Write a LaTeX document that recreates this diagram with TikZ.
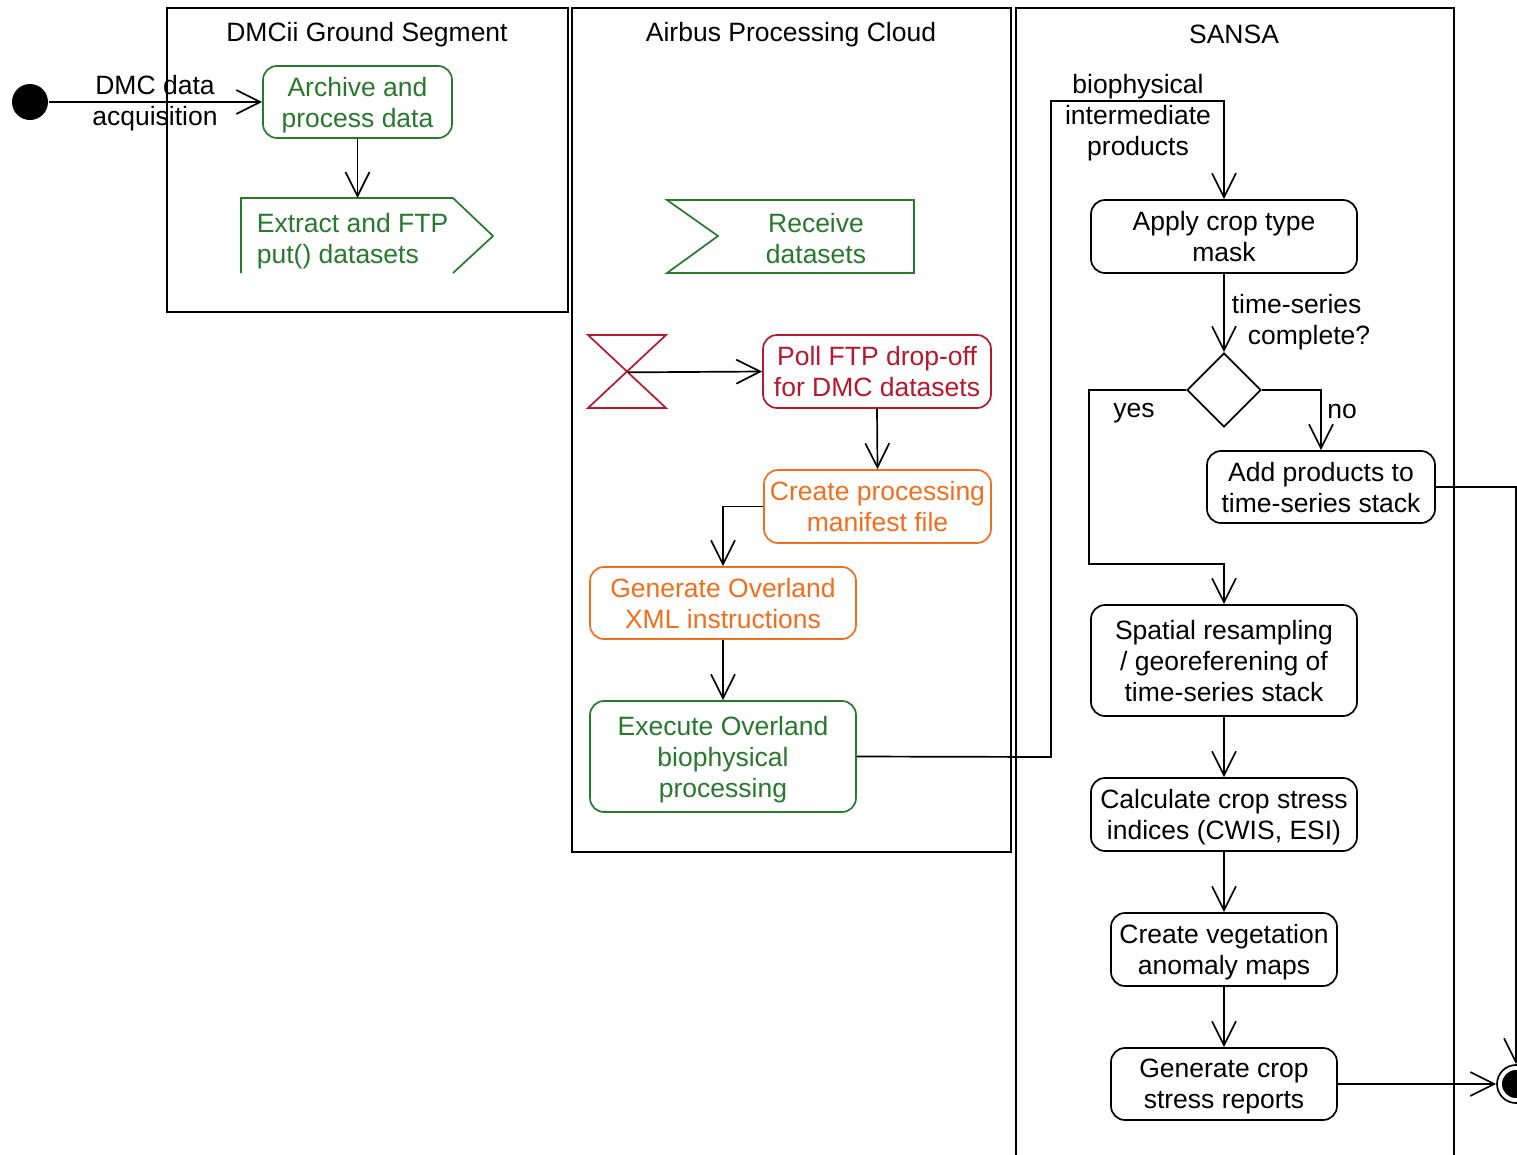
\documentclass[tikz,border=0pt]{standalone}
\usepackage{fontspec}
\setmainfont{Liberation Sans}
\usetikzlibrary{arrows.meta,shapes.geometric}
\definecolor{ggreen}{RGB}{40,120,45}
\definecolor{rred}{RGB}{180,25,45}
\definecolor{oorange}{RGB}{240,110,30}
\begin{document}
\begin{tikzpicture}[x=1pt,y=-1pt,line width=1.7pt,
  txt/.style={font=\fontsize{26.5}{31}\selectfont,execute at begin node={\rule{0pt}{24pt}}},
  ml/.style={text depth=-2pt},
  act/.style={draw,rounded corners=14pt,align=center,inner sep=0pt,txt,ml},
  flow/.style={-{Straight Barb[length=24pt,width=24pt,line width=1.7pt]}},
  lane/.style={draw,inner sep=0pt,anchor=north west},
  lbl/.style={txt,align=center,inner sep=0pt},
  ghost/.style={inner sep=0pt,anchor=north west}]
\useasboundingbox (0,0) rectangle (1517,1154);
\clip (0,0) rectangle (1517,1154);
% swimlanes
\node[lane,minimum width=401pt,minimum height=304pt] (lane1) at (166,7) {};
\node[lane,minimum width=439pt,minimum height=844pt] (lane2) at (571,7) {};
\node[lane,minimum width=438pt,minimum height=1170pt] (lane3) at (1015,7) {};
\node[lbl] (t1) at (367,32) {DMCii Ground Segment};
\node[lbl] (t2) at (791,32) {Airbus Processing Cloud};
\node[lbl] (t3) at (1234,32) {SANSA};
% start
\node[circle,fill,minimum size=36pt,inner sep=0pt] (start) at (30,102) {};
% lane 1
\node[act,ggreen,text=ggreen,minimum width=189pt,minimum height=72pt] (archive) at (357.5,102) {Archive and\\process data};
\node[ghost,minimum width=252pt,minimum height=75pt] (extract) at (241,198) {};
\draw[ggreen] (241,273) -- (241,198) -- (453,198) -- (493,236) -- (453,273);
\node[lbl,ml,ggreen,align=left,anchor=west] (extractT) at (256,238) {Extract and FTP\\put() datasets};
% lane 2
\node[ghost,minimum width=247pt,minimum height=73pt] (receive) at (667,200) {};
\draw[ggreen] (667,200) -- (914,200) -- (914,273) -- (667,273) -- (718,236) -- cycle;
\node[lbl,ml,ggreen] (receiveT) at (816,238) {Receive\\datasets};
\node[ghost,minimum width=78pt,minimum height=73pt] (hour) at (588,335) {};
\draw[rred] (588,335) -- (666,335) -- (588,408) -- (666,408) -- cycle;
\node[act,rred,text=rred,minimum width=228pt,minimum height=73pt] (poll) at (877,371.5) {Poll FTP drop-off\\for DMC datasets};
\node[act,oorange,text=oorange,minimum width=227pt,minimum height=73pt] (create) at (877.5,506.5) {Create processing\\manifest file};
\node[act,oorange,text=oorange,minimum width=266pt,minimum height=72pt] (generate) at (723,603) {Generate Overland\\XML instructions};
\node[act,ggreen,text=ggreen,minimum width=266pt,minimum height=111pt] (execute) at (723,756.5) {Execute Overland\\biophysical\\processing};
% lane 3
\node[act,minimum width=266pt,minimum height=73pt] (apply) at (1224,236.5) {Apply crop type\\mask};
\node[diamond,draw,minimum width=74pt,minimum height=74pt,inner sep=0pt] (dec) at (1224,390) {};
\node[act,minimum width=228pt,minimum height=72pt] (add) at (1321,487) {Add products to\\time-series stack};
\node[act,minimum width=266pt,minimum height=111pt] (spatial) at (1224,660.5) {Spatial resampling\\/ georeferening of\\time-series stack};
\node[act,minimum width=266pt,minimum height=73pt] (calc) at (1224,814.5) {Calculate crop stress\\indices (CWIS, ESI)};
\node[act,minimum width=226pt,minimum height=73pt] (veg) at (1224,949.5) {Create vegetation\\anomaly maps};
\node[act,minimum width=226pt,minimum height=72pt] (report) at (1224,1084) {Generate crop\\stress reports};
% end
\node[circle,draw,minimum size=38pt,inner sep=0pt] (end) at (1516,1084) {};
\fill (end.center) circle (14pt);
% connectors
\draw[flow] (start) -- (archive.west);
\node[lbl,ml] (dmc) at (155,100) {DMC data\\acquisition};
\draw[flow] (archive.south) -- (archive.south |- extract.north);
\draw[flow] (hour.center) -- (poll.west);
\draw[flow] (poll.south) -- (create.north);
\draw[flow] (create.west) -| (generate.north);
\draw[flow] (generate.south) -- (execute.north);
\coordinate (b1) at (1051,757);
\coordinate (b2) at (1051,101);
\draw[flow] (execute.east) -- (b1) -- (b2) -| (apply.north);
\node[lbl,ml] (bio) at (1138,115) {biophysical\\intermediate\\products};
\draw[flow] (apply.south) -- (dec.north);
\node[lbl,align=left,anchor=north west] (tsc) at (1231,293) {time-series\\\hspace*{16pt}complete?};
\coordinate (y1) at (1089,390);
\coordinate (y2) at (1089,564);
\draw[flow] (dec.west) -- (y1) -- (y2) -| (spatial.north);
\node[lbl] (yes) at (1134,408) {yes};
\draw[flow] (dec.east) -| (add.north);
\node[lbl] (no) at (1342,407) {no};
\draw[flow] (add.east) -| (end.north);
\draw[flow] (spatial.south) -- (calc.north);
\draw[flow] (calc.south) -- (veg.north);
\draw[flow] (veg.south) -- (report.north);
\draw[flow] (report.east) -- (end.west);
\end{tikzpicture}
\end{document}
